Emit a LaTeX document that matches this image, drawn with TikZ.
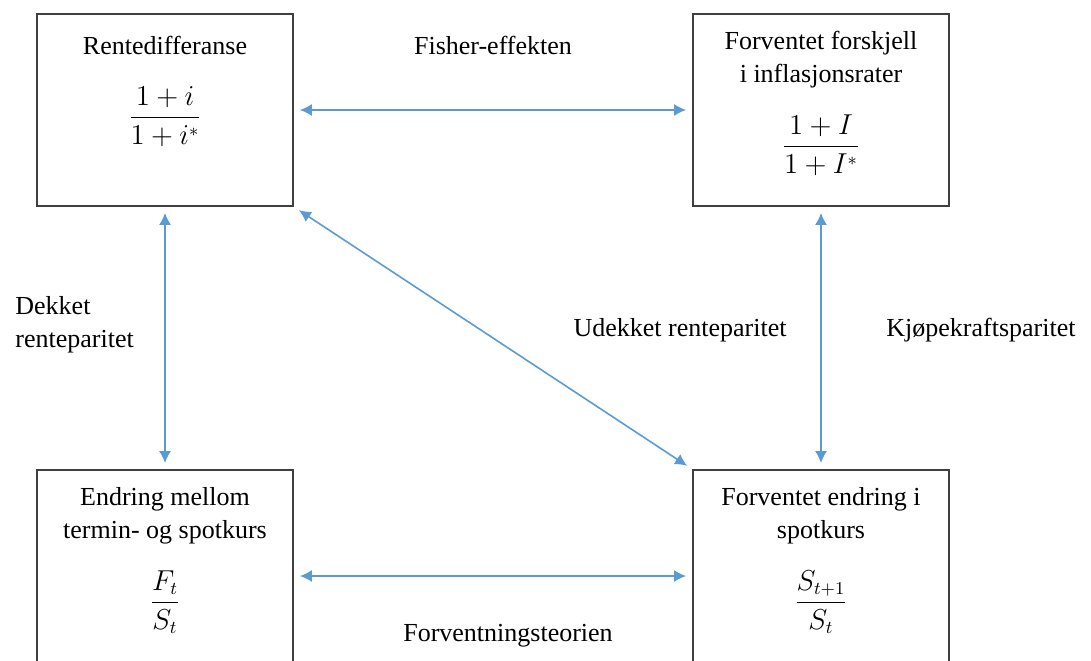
\documentclass[tikz,border=0pt]{standalone}
\usepackage{amsmath}
\usepackage{fontspec}
\setmainfont{Liberation Serif}
\usetikzlibrary{positioning,arrows.meta}

\definecolor{linkblue}{RGB}{91,155,213}
\newcommand{\bigfrac}[2]{{\fontsize{13.5}{16}\selectfont$\dfrac{#1}{#2}$}}

\begin{document}
\begin{tikzpicture}[x=0.5pt,y=-0.5pt,
                    font=\fontsize{13}{16.5}\selectfont,
                    box/.style={rectangle,draw=black!75,line width=0.9pt,minimum width=128pt,minimum height=96pt,inner sep=0pt},
                    boxtext/.style={align=center,inner sep=0pt},
                    link/.style={draw=linkblue,line width=0.8pt,{Latex[length=6pt,width=6pt]}-{Latex[length=6pt,width=6pt]},shorten >=3pt,shorten <=3pt},
                    label text/.style={align=left,inner sep=0pt}]
  \useasboundingbox (0,0) rectangle (1091,660);
  \clip (0,0) rectangle (1091,660);
  % boxes
  \node[box] (rd) at (165,110) {};
  \node[box] (fi) at (821,110) {};
  \node[box] (tk) at (165,566) {};
  \node[box] (fe) at (821,566) {};
  % box texts
  \node[boxtext,below=9pt of rd.north] (rdtext) {Rentedifferanse\strut\\[10pt]\bigfrac{1+i}{1+i^{*}}};
  \node[boxtext,below=9pt of fi.north] (fitext) {Forventet forskjell\\ i inflasjonsrater\strut\\[10pt]\bigfrac{1+I}{1+I^{*}}};
  \node[boxtext,below=9pt of tk.north] (tktext) {Endring mellom\\ termin- og spotkurs\strut\\[10pt]\bigfrac{F_t}{S_t}};
  \node[boxtext,below=9pt of fe.north] (fetext) {Forventet endring i\\ spotkurs\strut\\[10pt]\bigfrac{S_{t+1}}{S_t}};
  % arrows
  \draw[link] (rd.east) -- (fi.west);
  \draw[link] (rd.south) -- (tk.north);
  \draw[link] (fi.south) -- (fe.north);
  \draw[link] (rd.south east) -- (fe.north west);
  \draw[link] ([yshift=-5pt]tk.east) -- ([yshift=-5pt]fe.west);
  % labels
  \node (fisher) at (493,45) {Fisher-effekten};
  \node[label text,anchor=west] (dekket) at (15,325) {Dekket\\renteparitet};
  \node (udekket) at (680,330) {Udekket renteparitet};
  \node[anchor=west,inner sep=0pt] (kjop) at (886,330) {Kjøpekraftsparitet};
  \node (teori) at (508,636) {Forventningsteorien};
\end{tikzpicture}
\end{document}
